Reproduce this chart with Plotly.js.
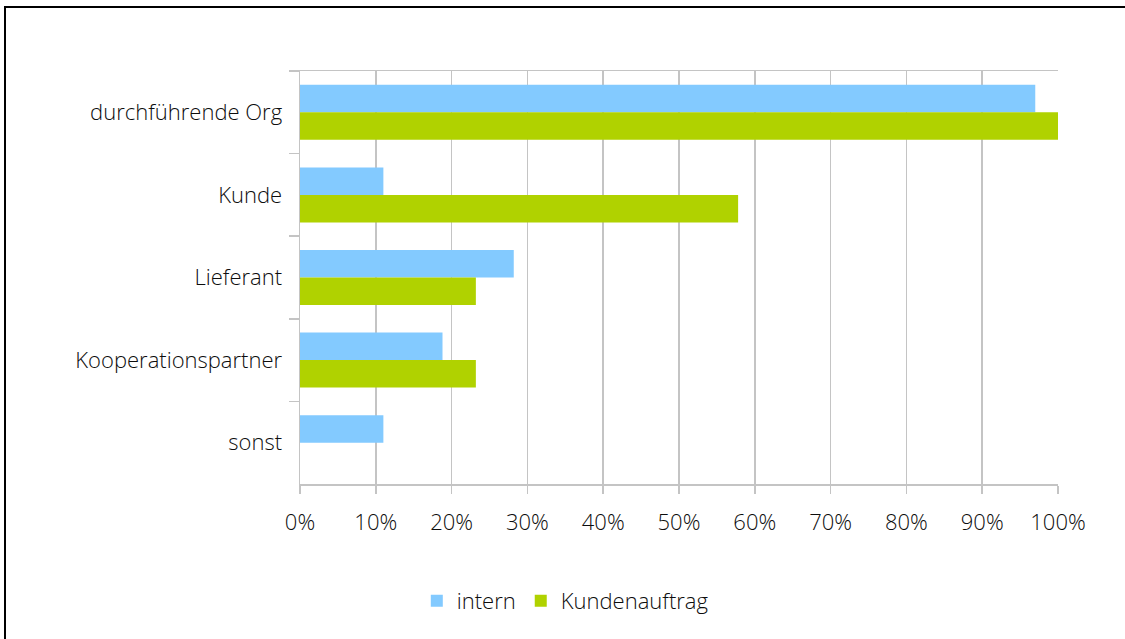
<!DOCTYPE html>
<html>
<head>
<meta charset="utf-8">
<script src="https://cdn.plot.ly/plotly-3.0.1.min.js"></script>
<style>
  html, body { margin: 0; padding: 0; background: #fff; }
  #wrap { position: relative; width: 1125px; height: 639px; overflow: hidden; }
  #chart { width: 1125px; height: 639px; }
  #frame { position: absolute; left: 4px; top: 6px; width: 1200px; height: 700px;
           border: 2px solid #000; box-sizing: border-box; pointer-events: none; }
</style>
</head>
<body>
<div id="wrap">
  <div id="chart"></div>
  <div id="frame"></div>
</div>
<script>
// Beteiligte nach Projektart (Anteile)
const categories = ["durchführende Org", "Kunde", "Lieferant", "Kooperationspartner", "sonst"];
const internValues = [0.97, 0.11, 0.282, 0.188, 0.11];
const kundenauftragValues = [1.00, 0.578, 0.232, 0.232, 0.0];
const seriesNames = ["intern", "Kundenauftrag"];
const xTickValues = [0, 0.1, 0.2, 0.3, 0.4, 0.5, 0.6, 0.7, 0.8, 0.9, 1.0];

const fontFamily = "'Open Sans', 'Noto Sans', sans-serif";
const textColor = "#0d0d0d";
const lineColor = "#c4c4c4";
const labelFont = { family: fontFamily, size: 22, color: textColor, weight: 300 };

const traces = [
  {
    type: "bar", orientation: "h", name: seriesNames[0],
    y: categories, x: internValues,
    marker: { color: "#83CAFF" }, hoverinfo: "skip"
  },
  {
    type: "bar", orientation: "h", name: seriesNames[1],
    y: categories, x: kundenauftragValues,
    marker: { color: "#B0D200" }, hoverinfo: "skip"
  }
];

const layout = {
  width: 1125, height: 639,
  margin: { l: 300, r: 67, t: 71, b: 155, pad: 0 },
  paper_bgcolor: "#fff", plot_bgcolor: "#fff",
  barmode: "group", bargap: 0.334, bargroupgap: 0,
  showlegend: true,
  font: labelFont,
  xaxis: {
    range: [0, 1], tickvals: xTickValues, tickformat: ".0%",
    showgrid: true, gridcolor: lineColor, gridwidth: 1.5,
    showline: true, linecolor: lineColor, linewidth: 1.5, mirror: true,
    ticks: "outside", ticklen: 8, tickcolor: lineColor, tickwidth: 1.5,
    ticklabelstandoff: 10,
    zeroline: false, fixedrange: true,
    tickfont: labelFont
  },
  yaxis: {
    type: "category", autorange: "reversed",
    tickson: "boundaries",
    showgrid: false, zeroline: false,
    showline: true, linecolor: lineColor, linewidth: 1.5,
    ticks: "outside", ticklen: 10, tickcolor: lineColor, tickwidth: 1.5,
    ticklabelstandoff: 12, fixedrange: true,
    tickfont: labelFont
  },
  legend: {
    orientation: "h", x: 0.35, xanchor: "center", y: -0.283, yanchor: "middle",
    font: labelFont,
    itemwidth: 30, traceorder: "normal"
  }
};

Plotly.newPlot("chart", traces, layout, { staticPlot: true, displayModeBar: false });
</script>
</body>
</html>
